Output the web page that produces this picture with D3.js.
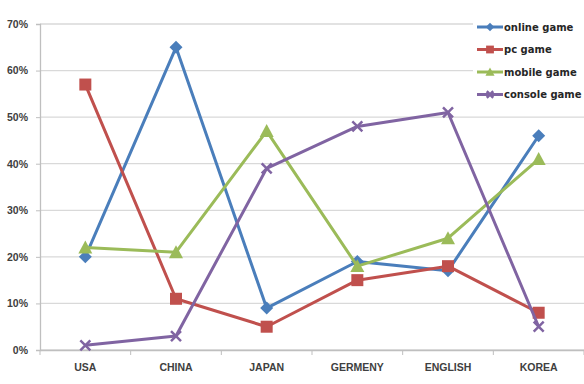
<!DOCTYPE html>
<html>
<head>
<meta charset="utf-8">
<script src="https://cdn.jsdelivr.net/npm/d3@7"></script>
<style>
body { margin: 0; background: #fff; }
svg { display: block; font-family: "DejaVu Sans", sans-serif; }
</style>
</head>
<body>
<svg id="svg0" width="584" height="384"></svg>
<script>
var countries = ['USA', 'CHINA', 'JAPAN', 'GERMENY', 'ENGLISH', 'KOREA'];
var seriesNames = ['online game', 'pc game', 'mobile game', 'console game'];
var onlineGame = [20, 65, 9, 19, 17, 46];
var pcGame = [57, 11, 5, 15, 18, 8];
var mobileGame = [22, 21, 47, 18, 24, 41];
var consoleGame = [1, 3, 39, 48, 51, 5];
var yTicks = [0, 10, 20, 30, 40, 50, 60, 70];

var colors = ['#4a7ebb', '#c0504d', '#9bbb59', '#8064a2'];
var shapes = ['diamond', 'square', 'triangle', 'x'];
var allSeries = [onlineGame, pcGame, mobileGame, consoleGame];

var svg0 = d3.select('#svg0');

var x = d3.scaleBand().domain(countries).range([40, 584]);
var y = d3.scaleLinear().domain([0, 70]).range([350, 24]);

// grid
svg0.append('g').selectAll('line')
    .data(yTicks)
    .enter().append('line')
    .attr('x1', 40).attr('x2', 584)
    .attr('y1', function(d) { return y(d); })
    .attr('y2', function(d) { return y(d); })
    .attr('stroke', '#d9d9d9')
    .attr('stroke-width', 1.3);

// y axis
var yAxis = svg0.append('g')
    .attr('transform', 'translate(40,0)')
    .call(d3.axisLeft(y).tickValues(yTicks).tickSize(4).tickFormat(function(d) { return d + '%'; }));
yAxis.select('.domain').attr('stroke', '#bfbfbf').attr('stroke-width', 1.3);
yAxis.selectAll('.tick line').attr('stroke', '#bfbfbf');
yAxis.selectAll('text').attr('x', -12).attr('font-size', 10.5).attr('font-weight', 'bold').attr('fill', '#404040');

// x axis
var xAxis = svg0.append('g')
    .attr('transform', 'translate(0,350)')
    .call(d3.axisBottom(x).tickSize(0).tickPadding(14));
xAxis.select('.domain').attr('stroke', '#bfbfbf').attr('stroke-width', 1.3);
xAxis.selectAll('text').attr('font-size', 10.5).attr('font-weight', 'bold').attr('fill', '#404040');
xAxis.selectAll('.sep')
    .data(countries.concat(['end']))
    .enter().append('line')
    .attr('class', 'sep')
    .attr('x1', function(d, i) { return 40 + i * x.bandwidth(); })
    .attr('x2', function(d, i) { return 40 + i * x.bandwidth(); })
    .attr('y1', 0).attr('y2', 5)
    .attr('stroke', '#bfbfbf');

function cx(i) { return x(countries[i]) + x.bandwidth() / 2; }

// k scales the marker (1 on the chart, smaller in the legend)
function drawMarker(g, shape, color, px, py, k) {
    k = k || 1;
    if (shape === 'diamond') {
        var r = 6.5 * k;
        g.append('path').attr('d', 'M' + px + ',' + (py - r) + 'L' + (px + r) + ',' + py + 'L' + px + ',' + (py + r) + 'L' + (px - r) + ',' + py + 'Z')
            .attr('fill', color);
    } else if (shape === 'square') {
        var h = 6 * k;
        g.append('rect').attr('x', px - h).attr('y', py - h).attr('width', 2 * h).attr('height', 2 * h)
            .attr('fill', color);
    } else if (shape === 'triangle') {
        var t = 7 * k;
        g.append('path').attr('d', 'M' + px + ',' + (py - t) + 'L' + (px + t) + ',' + (py + t * 0.85) + 'L' + (px - t) + ',' + (py + t * 0.85) + 'Z')
            .attr('fill', color);
    } else {
        var c = 5 * k;
        g.append('path').attr('d', 'M' + (px - c) + ',' + (py - c) + 'L' + (px + c) + ',' + (py + c) + 'M' + (px + c) + ',' + (py - c) + 'L' + (px - c) + ',' + (py + c))
            .attr('stroke', color).attr('stroke-width', 2.5).attr('fill', 'none');
    }
}

var line = d3.line()
    .x(function(d, i) { return cx(i); })
    .y(function(d) { return y(d); });

allSeries.forEach(function(vals, s) {
    var g = svg0.append('g');
    g.append('path')
        .attr('d', line(vals))
        .attr('fill', 'none')
        .attr('stroke', colors[s])
        .attr('stroke-width', 3)
        .attr('stroke-linejoin', 'round');
    vals.forEach(function(v, i) {
        drawMarker(g, shapes[s], colors[s], cx(i), y(v));
    });
});

// legend
var legend = svg0.append('g');
legend.append('rect')
    .attr('x', 473).attr('y', 14).attr('width', 111).attr('height', 92)
    .attr('fill', '#fff');
seriesNames.forEach(function(name, s) {
    var ly = 27 + s * 22.5;
    legend.append('line')
        .attr('x1', 477).attr('x2', 503).attr('y1', ly).attr('y2', ly)
        .attr('stroke', colors[s]).attr('stroke-width', 3);
    var mg = legend.append('g');
    drawMarker(mg, shapes[s], colors[s], 490, ly, 0.65);
    legend.append('text')
        .attr('x', 504).attr('y', ly + 3.5)
        .attr('font-size', 10).attr('font-weight', 'bold').attr('fill', '#262626')
        .text(name);
});
</script>
</body>
</html>
